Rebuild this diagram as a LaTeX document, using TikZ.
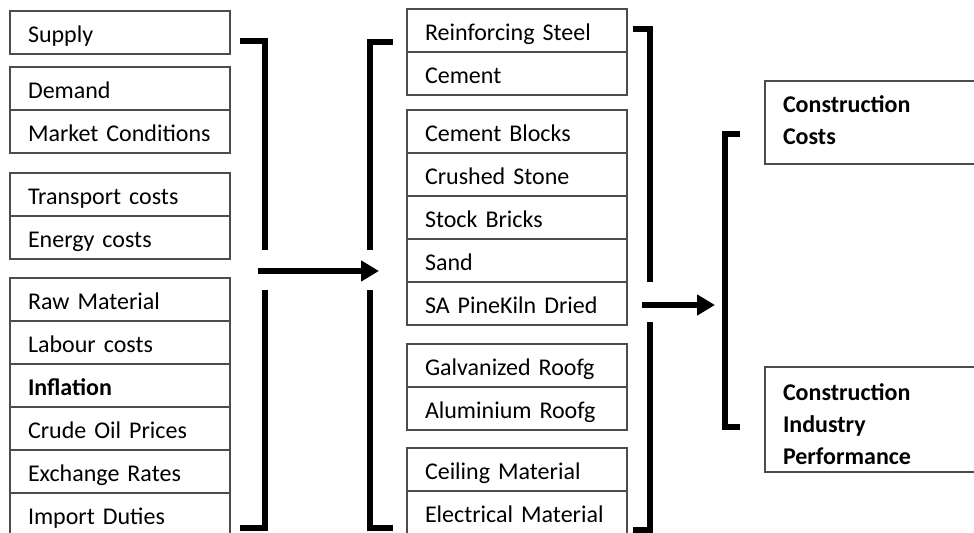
\documentclass[tikz,border=0pt]{standalone}
\usepackage{fontspec}
\setmainfont{Carlito}
\usetikzlibrary{positioning,arrows.meta}

\begin{document}
\begin{tikzpicture}[x=0.5pt, y=-0.5pt, node distance=0pt, >={Triangle[length=9pt,width=10pt]}, every node/.style={font=\fontsize{12}{15.5}\selectfont}]
\tikzstyle{row}=[rectangle, draw=black!70, line width=0.6pt, outer sep=0pt, text width=92pt, inner xsep=9pt, inner ysep=0pt, minimum height=21.5pt, text height=10pt, text depth=0pt, align=left]
\tikzstyle{outbox}=[rectangle, draw=black!70, line width=0.6pt, outer sep=0pt, text width=94pt, inner xsep=9pt, align=left, font=\fontsize{12}{16}\selectfont\bfseries]
\tikzstyle{bracket}=[line width=3pt, line join=miter]
\tikzstyle{flow}=[->, line width=3pt]
\useasboundingbox (0,0) rectangle (974,533);

% factors
\node[row, anchor=north west] (supply) at (10,11) {Supply};
\node[row, anchor=north west] (demand) at (10,67) {Demand};
\node[row, below=of demand] (market) {Market Conditions};
\node[row, anchor=north west] (transport) at (10,173) {Transport costs};
\node[row, below=of transport] (energy) {Energy costs};
\node[row, anchor=north west] (raw) at (10,278) {Raw Material};
\node[row, below=of raw] (labour) {Labour costs};
\node[row, below=of labour, font=\fontsize{12}{15.5}\selectfont\bfseries] (inflation) {Inflation};
\node[row, below=of inflation] (crude) {Crude Oil Prices};
\node[row, below=of crude] (exchange) {Exchange Rates};
\node[row, below=of exchange] (import) {Import Duties};

% materials
\node[row, anchor=north west] (steel) at (407,9) {Reinforcing Steel};
\node[row, below=of steel] (cement) {Cement};
\node[row, anchor=north west] (blocks) at (407,110) {Cement Blocks};
\node[row, below=of blocks] (stone) {Crushed Stone};
\node[row, below=of stone] (bricks) {Stock Bricks};
\node[row, below=of bricks] (sand) {Sand};
\node[row, below=of sand] (pine) {SA PineKiln Dried};
\node[row, anchor=north west] (galv) at (407,344) {Galvanized Roofg};
\node[row, below=of galv] (alu) {Aluminium Roofg};
\node[row, anchor=north west] (ceiling) at (407,448) {Ceiling Material};
\node[row, below=of ceiling] (electrical) {Electrical Material};

% outcomes
\node[outbox, anchor=north west, minimum height=41.5pt, text depth=18.5pt] (costs) at (765,81) {Construction\\Costs};
\node[outbox, anchor=north west, minimum height=52.5pt, text height=13pt] (perf) at (765,367) {Construction\\Industry\\Performance};

% brackets
\draw[bracket] (240,41) -- (265,41) -- (265,250);
\draw[bracket] (265,290) -- (265,528) -- (240,528);
\draw[bracket] (393,42) -- (370,42) -- (370,250);
\draw[bracket] (370,290) -- (370,528) -- (393,528);
\draw[bracket] (633,29) -- (650,29) -- (650,282);
\draw[bracket] (650,322) -- (650,530) -- (633,530);
\draw[bracket] (740,134) -- (725,134) -- (725,427) -- (740,427);

% arrows
\coordinate (lout) at (258,271);
\coordinate (min) at (379,271);
\coordinate (mout) at (642,305);
\coordinate (rin) at (715,305);
\draw[flow] (lout) -- (min);
\draw[flow] (mout) -- (rin);
\end{tikzpicture}
\end{document}
